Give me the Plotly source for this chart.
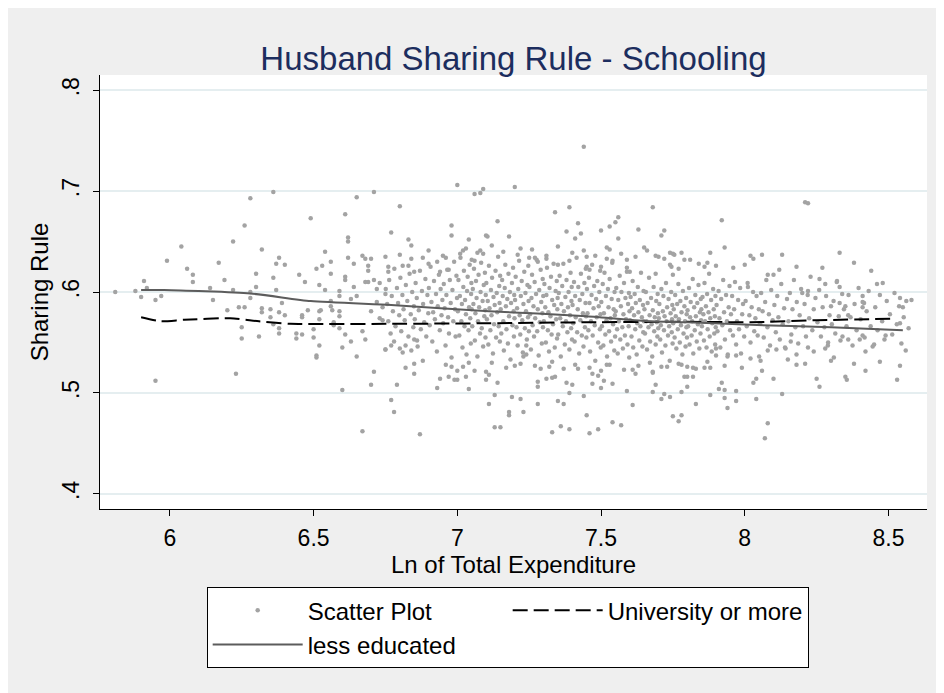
import plotly.graph_objects as go

# smoothed lines
less_educated_x = [5.90, 5.98, 6.28, 6.49, 6.77, 7.11, 7.45, 7.67, 7.80, 8.02, 8.30, 8.55]
less_educated_y = [0.602, 0.602, 0.5985, 0.591, 0.587, 0.581, 0.576, 0.571, 0.570, 0.5675, 0.565, 0.562]

university_x = [5.90, 5.97, 6.05, 6.21, 6.31, 6.42, 6.77, 7.11, 7.45, 7.80, 8.02, 8.25, 8.52]
university_y = [0.575, 0.571, 0.5725, 0.574, 0.571, 0.5685, 0.5685, 0.569, 0.570, 0.5705, 0.570, 0.572, 0.5735]

# scattered households outside the dense cloud
scatter_outer = [
    (5.81, 0.600), (5.88, 0.601), (5.90, 0.595), (5.91, 0.611), (5.92, 0.604), (5.95, 0.592), (5.95, 0.512),
    (5.97, 0.596), (5.99, 0.631), (6.04, 0.645), (6.06, 0.623), (6.08, 0.617), (6.08, 0.610), (6.14, 0.604),
    (6.15, 0.592), (6.17, 0.629), (6.19, 0.612), (6.20, 0.582), (6.22, 0.650), (6.22, 0.602), (6.23, 0.519),
    (6.24, 0.585), (6.25, 0.565), (6.25, 0.554), (6.26, 0.666), (6.26, 0.585), (6.28, 0.693), (6.28, 0.600),
    (6.28, 0.594), (6.30, 0.618), (6.30, 0.605), (6.31, 0.556), (6.32, 0.642), (6.32, 0.584), (6.32, 0.580),
    (6.35, 0.583), (6.35, 0.575), (6.36, 0.699), (6.36, 0.614), (6.36, 0.568), (6.37, 0.628), (6.37, 0.602),
    (6.38, 0.634), (6.38, 0.580), (6.38, 0.559), (6.38, 0.564), (6.39, 0.589), (6.40, 0.627), (6.40, 0.577),
    (6.44, 0.559), (6.44, 0.554), (6.45, 0.617), (6.46, 0.558), (6.46, 0.575), (6.46, 0.577), (6.47, 0.610),
    (6.48, 0.582), (6.49, 0.673), (6.50, 0.563), (6.50, 0.555), (6.51, 0.537), (6.51, 0.535), (6.51, 0.623),
    (6.52, 0.547), (6.52, 0.581), (6.52, 0.573), (6.525, 0.582), (6.52, 0.607), (6.53, 0.626), (6.54, 0.640),
    (6.54, 0.602), (6.56, 0.630), (6.56, 0.618), (6.56, 0.586), (6.565, 0.582), (6.56, 0.591), (6.57, 0.570),
    (6.57, 0.567), (6.59, 0.601), (6.59, 0.596), (6.59, 0.581), (6.59, 0.576), (6.59, 0.564), (6.60, 0.503),
    (6.60, 0.545), (6.61, 0.677), (6.61, 0.558), (6.61, 0.615), (6.61, 0.612), (6.62, 0.654), (6.62, 0.650),
    (6.62, 0.634), (6.63, 0.551), (6.63, 0.593), (6.64, 0.628), (6.64, 0.605), (6.65, 0.694), (6.65, 0.596),
    (6.65, 0.536), (6.67, 0.636), (6.67, 0.561), (6.67, 0.462), (6.68, 0.633), (6.68, 0.553), (6.68, 0.610),
    (6.69, 0.626), (6.69, 0.621), (6.69, 0.610), (6.70, 0.633), (6.70, 0.508), (6.70, 0.581), (6.71, 0.699),
    (6.71, 0.521), (6.71, 0.612), (6.72, 0.603), (6.72, 0.590), (6.73, 0.574), (6.73, 0.609), (6.74, 0.585),
    (6.74, 0.572), (6.75, 0.635), (6.75, 0.543), (6.75, 0.598), (6.76, 0.625), (6.76, 0.620),
    (6.77, 0.659), (6.80, 0.685), (6.83, 0.652), (6.84, 0.646), (6.81, 0.626), (6.83, 0.626), (6.85, 0.620),
    (6.88, 0.634), (6.90, 0.628), (6.93, 0.630), (6.94, 0.620), (6.96, 0.634), (6.97, 0.622), (6.98, 0.666),
    (6.98, 0.656), (7.00, 0.706), (7.01, 0.638), (7.02, 0.641), (7.04, 0.652), (7.05, 0.632), (7.06, 0.631),
    (7.06, 0.697), (7.07, 0.639), (7.08, 0.641), (7.08, 0.698), (7.09, 0.702), (7.10, 0.656), (7.105, 0.655),
    (7.14, 0.670), (7.18, 0.655), (7.20, 0.704), (7.22, 0.643), (7.25, 0.634), (7.27, 0.634), (7.28, 0.630),
    (7.31, 0.633), (7.34, 0.679), (7.35, 0.627), (7.38, 0.660), (7.39, 0.684), (7.39, 0.631), (7.41, 0.653),
    (7.42, 0.668), (7.43, 0.658), (7.44, 0.744), (7.45, 0.635), (7.45, 0.625), (7.46, 0.622), (7.50, 0.661),
    (7.50, 0.625), (7.52, 0.633), (7.53, 0.665), (7.53, 0.642), (7.54, 0.631), (7.55, 0.669), (7.56, 0.674),
    (7.56, 0.653), (7.59, 0.632), (7.59, 0.620), (7.60, 0.620), (7.63, 0.662), (7.65, 0.644), (7.68, 0.684),
    (7.69, 0.636), (7.69, 0.618), (7.70, 0.635), (7.71, 0.656), (7.72, 0.661), (7.74, 0.639), (7.74, 0.627),
    (7.745, 0.625), (7.75, 0.638), (7.755, 0.637), (7.75, 0.617), (7.77, 0.623), (7.78, 0.639), (7.79, 0.632),
    (7.86, 0.625), (7.87, 0.629), (7.88, 0.639), (7.92, 0.671), (7.93, 0.644), (8.01, 0.609), (8.02, 0.636),
    (8.03, 0.633), (8.06, 0.637), (8.08, 0.617), (8.10, 0.617), (8.13, 0.637), (8.21, 0.689), (8.22, 0.688),
    (8.26, 0.613), (8.28, 0.608), (8.32, 0.610), (8.33, 0.605), (8.33, 0.639), (8.38, 0.629), (8.46, 0.608),
    (8.48, 0.609),
    (8.54, 0.594), (8.58, 0.592), (8.55, 0.585), (8.54, 0.569), (8.57, 0.564), (8.56, 0.542), (8.54, 0.527),
    (8.53, 0.513), (8.42, 0.522), (8.38, 0.529), (8.42, 0.541), (8.45, 0.548), (8.35, 0.516), (8.355, 0.513),
    (8.26, 0.506), (8.25, 0.514), (8.30, 0.532), (8.28, 0.544), (8.29, 0.550), (8.22, 0.545), (8.24, 0.541),
    (8.18, 0.528), (8.18, 0.538), (8.16, 0.551), (8.14, 0.545), (8.13, 0.499), (8.10, 0.514), (8.11, 0.543),
    (8.08, 0.542), (8.05, 0.536), (8.055, 0.532), (8.03, 0.510), (8.04, 0.514), (8.04, 0.494), (8.08, 0.470),
    (8.07, 0.455), (8.02, 0.534), (7.97, 0.502), (7.97, 0.492), (7.94, 0.485), (7.93, 0.503), (7.93, 0.495),
    (7.91, 0.504), (7.92, 0.510), (7.88, 0.498), (7.83, 0.489), (7.78, 0.478), (7.75, 0.477), (7.77, 0.472),
    (7.80, 0.506), (7.78, 0.501), (7.74, 0.496), (7.71, 0.494), (7.72, 0.499), (7.68, 0.501), (7.69, 0.508),
    (7.68, 0.521), (7.79, 0.516), (7.80, 0.516), (7.82, 0.516), (7.80, 0.526), (7.82, 0.525), (7.78, 0.528),
    (7.86, 0.525), (7.88, 0.525), (7.90, 0.544), (7.90, 0.537), (7.94, 0.536), (7.97, 0.537), (8.49, 0.557),
    (8.41, 0.557), (8.40, 0.553), (8.36, 0.553), (8.34, 0.556), (8.41, 0.596), (8.415, 0.589), (8.41, 0.585),
    (8.35, 0.586), (8.33, 0.589), (8.30, 0.586), (8.36, 0.577), (8.22, 0.601), (8.20, 0.599),
    (6.77, 0.493), (6.78, 0.481), (6.79, 0.508), (6.87, 0.459), (6.82, 0.525), (6.85, 0.529), (6.85, 0.519),
    (6.93, 0.505), (6.94, 0.514), (6.97, 0.516), (6.98, 0.526), (7.00, 0.513), (7.00, 0.522), (6.99, 0.513),
    (7.03, 0.516), (7.04, 0.530), (7.04, 0.504), (7.10, 0.521), (7.10, 0.513), (7.11, 0.518), (7.11, 0.489),
    (7.13, 0.498), (7.13, 0.466), (7.15, 0.466), (7.18, 0.478), (7.18, 0.481), (7.19, 0.496), (7.22, 0.494),
    (7.23, 0.481), (7.14, 0.510), (7.20, 0.527), (7.23, 0.536), (7.24, 0.538), (7.28, 0.506), (7.28, 0.511),
    (7.28, 0.489), (7.29, 0.524), (7.32, 0.526), (7.31, 0.514), (7.33, 0.515), (7.34, 0.516), (7.33, 0.461),
    (7.36, 0.467), (7.35, 0.492), (7.37, 0.489), (7.39, 0.464), (7.39, 0.500), (7.38, 0.510), (7.40, 0.508),
    (7.42, 0.524), (7.44, 0.497), (7.45, 0.478), (7.46, 0.460), (7.49, 0.464), (7.47, 0.509), (7.47, 0.519),
    (7.49, 0.517), (7.50, 0.522), (7.52, 0.528), (7.51, 0.512), (7.54, 0.509), (7.50, 0.505), (7.54, 0.471),
    (7.57, 0.468), (7.59, 0.502), (7.61, 0.488), (7.61, 0.523), (7.62, 0.519), (7.68, 0.520), (7.71, 0.526),
    (7.24, 0.547), (6.75, 0.543), (6.77, 0.547), (6.78, 0.551), (6.80, 0.544), (6.81, 0.540), (6.82, 0.547),
    (6.84, 0.542), (6.85, 0.553), (6.86, 0.552),
    (6.80, 0.637), (6.84, 0.633), (6.90, 0.641), (6.95, 0.636), (7.03, 0.643), (7.09, 0.638), (7.12, 0.646),
    (7.16, 0.640), (7.21, 0.637), (7.26, 0.642), (7.31, 0.636), (7.35, 0.645), (7.40, 0.639), (7.44, 0.641),
    (7.48, 0.636), (7.52, 0.644), (7.57, 0.638), (7.62, 0.635), (7.66, 0.641), (7.72, 0.633), (7.81, 0.632),
    (7.84, 0.628), (7.90, 0.626), (7.96, 0.624), (8.00, 0.627), (8.12, 0.622), (8.18, 0.625), (8.27, 0.624),
    (8.44, 0.621),
    (6.88, 0.532), (6.96, 0.528), (7.02, 0.526), (7.06, 0.522), (7.12, 0.530), (7.17, 0.525), (7.22, 0.529),
    (7.27, 0.527), (7.33, 0.531), (7.37, 0.524), (7.41, 0.528), (7.46, 0.525), (7.53, 0.528), (7.58, 0.523),
    (7.63, 0.527), (7.67, 0.530), (7.73, 0.526), (7.77, 0.529), (7.83, 0.524), (7.87, 0.531), (7.93, 0.527),
    (7.99, 0.525), (8.06, 0.522), (8.15, 0.533), (8.21, 0.529), (8.31, 0.535), (8.47, 0.531),
]

# the dense cloud in the middle of the range
scatter_core = [
    (6.751, 0.603), (6.756, 0.588), (6.760, 0.571), (6.763, 0.612), (6.768, 0.559), (6.772, 0.596), (6.776, 0.581),
    (6.781, 0.623), (6.785, 0.566), (6.790, 0.604), (6.794, 0.589), (6.798, 0.577),
    (6.802, 0.614), (6.805, 0.561), (6.809, 0.597), (6.813, 0.583), (6.817, 0.572), (6.821, 0.607), (6.826, 0.591),
    (6.830, 0.556), (6.834, 0.618), (6.838, 0.578), (6.843, 0.600), (6.847, 0.565), (6.849, 0.586),
    (6.852, 0.573), (6.855, 0.609), (6.859, 0.594), (6.862, 0.546), (6.866, 0.582), (6.870, 0.621), (6.873, 0.563),
    (6.877, 0.601), (6.881, 0.588), (6.885, 0.570), (6.889, 0.613), (6.892, 0.556), (6.896, 0.597), (6.899, 0.579),
    (6.901, 0.604), (6.904, 0.567), (6.907, 0.625), (6.910, 0.590), (6.913, 0.551), (6.916, 0.580), (6.919, 0.611),
    (6.922, 0.573), (6.926, 0.598), (6.929, 0.541), (6.932, 0.586), (6.936, 0.617), (6.939, 0.562), (6.942, 0.603),
    (6.945, 0.577), (6.948, 0.592),
    (6.951, 0.569), (6.953, 0.608), (6.956, 0.584), (6.959, 0.547), (6.962, 0.597), (6.965, 0.622), (6.968, 0.575),
    (6.971, 0.559), (6.974, 0.612), (6.977, 0.589), (6.980, 0.535), (6.983, 0.602), (6.986, 0.571), (6.989, 0.630),
    (6.992, 0.583), (6.994, 0.556), (6.997, 0.616), (6.999, 0.594),
    (7.002, 0.581), (7.004, 0.612), (7.007, 0.557), (7.009, 0.596), (7.011, 0.634), (7.014, 0.571), (7.016, 0.588),
    (7.018, 0.545), (7.021, 0.605), (7.023, 0.621), (7.025, 0.566), (7.027, 0.592), (7.030, 0.578), (7.032, 0.538),
    (7.034, 0.601), (7.036, 0.615), (7.039, 0.562), (7.041, 0.585), (7.043, 0.627), (7.045, 0.574), (7.047, 0.549),
    (7.048, 0.598), (7.049, 0.609), (7.050, 0.583),
    (7.052, 0.566), (7.054, 0.603), (7.056, 0.588), (7.058, 0.623), (7.061, 0.552), (7.063, 0.579), (7.065, 0.611),
    (7.067, 0.594), (7.070, 0.536), (7.072, 0.571), (7.074, 0.617), (7.076, 0.585), (7.079, 0.559), (7.081, 0.600),
    (7.083, 0.629), (7.085, 0.564), (7.088, 0.591), (7.090, 0.546), (7.092, 0.607), (7.094, 0.576), (7.096, 0.619),
    (7.097, 0.582), (7.098, 0.555), (7.099, 0.597),
    (7.101, 0.609), (7.103, 0.573), (7.106, 0.591), (7.108, 0.548), (7.110, 0.626), (7.112, 0.584), (7.115, 0.562),
    (7.117, 0.602), (7.119, 0.577), (7.121, 0.614), (7.124, 0.539), (7.126, 0.595), (7.128, 0.568), (7.130, 0.587),
    (7.133, 0.621), (7.135, 0.555), (7.137, 0.599), (7.139, 0.580), (7.142, 0.635), (7.144, 0.566), (7.146, 0.606),
    (7.147, 0.589), (7.148, 0.551), (7.149, 0.616),
    (7.151, 0.583), (7.153, 0.559), (7.156, 0.612), (7.158, 0.596), (7.160, 0.571), (7.162, 0.542), (7.165, 0.604),
    (7.167, 0.627), (7.169, 0.586), (7.171, 0.563), (7.174, 0.593), (7.176, 0.549), (7.178, 0.618), (7.180, 0.576),
    (7.183, 0.600), (7.185, 0.533), (7.187, 0.589), (7.190, 0.609), (7.192, 0.567), (7.194, 0.624), (7.196, 0.581),
    (7.197, 0.556), (7.198, 0.597), (7.199, 0.574),
    (7.201, 0.592), (7.203, 0.615), (7.206, 0.565), (7.208, 0.584), (7.210, 0.547), (7.212, 0.603), (7.215, 0.631),
    (7.217, 0.577), (7.219, 0.558), (7.221, 0.596), (7.224, 0.611), (7.226, 0.572), (7.228, 0.540), (7.230, 0.588),
    (7.233, 0.620), (7.235, 0.564), (7.237, 0.599), (7.239, 0.581), (7.242, 0.553), (7.244, 0.607), (7.246, 0.575),
    (7.247, 0.626), (7.248, 0.591), (7.249, 0.561),
    (7.251, 0.605), (7.253, 0.578), (7.256, 0.543), (7.258, 0.594), (7.260, 0.617), (7.262, 0.567), (7.265, 0.586),
    (7.267, 0.556), (7.269, 0.610), (7.271, 0.574), (7.274, 0.598), (7.276, 0.632), (7.278, 0.561), (7.280, 0.583),
    (7.283, 0.537), (7.285, 0.602), (7.287, 0.570), (7.290, 0.622), (7.292, 0.590), (7.294, 0.549), (7.296, 0.579),
    (7.297, 0.613), (7.298, 0.565), (7.299, 0.596),
    (7.301, 0.571), (7.303, 0.608), (7.306, 0.585), (7.308, 0.550), (7.310, 0.597), (7.312, 0.624), (7.315, 0.562),
    (7.317, 0.580), (7.319, 0.541), (7.321, 0.604), (7.324, 0.576), (7.326, 0.615), (7.328, 0.558), (7.330, 0.592),
    (7.333, 0.568), (7.335, 0.628), (7.337, 0.587), (7.339, 0.545), (7.342, 0.601), (7.344, 0.573), (7.346, 0.611),
    (7.347, 0.554), (7.348, 0.583), (7.349, 0.594),
    (7.351, 0.558), (7.353, 0.599), (7.356, 0.616), (7.358, 0.574), (7.360, 0.536), (7.362, 0.588), (7.365, 0.606),
    (7.367, 0.566), (7.369, 0.628), (7.371, 0.581), (7.374, 0.548), (7.376, 0.595), (7.378, 0.571), (7.380, 0.612),
    (7.383, 0.560), (7.385, 0.585), (7.387, 0.600), (7.390, 0.543), (7.392, 0.577), (7.394, 0.619), (7.396, 0.564),
    (7.397, 0.591), (7.398, 0.605), (7.399, 0.553),
    (7.401, 0.587), (7.403, 0.569), (7.406, 0.610), (7.408, 0.551), (7.410, 0.596), (7.412, 0.575), (7.415, 0.634),
    (7.417, 0.560), (7.419, 0.583), (7.421, 0.605), (7.424, 0.539), (7.426, 0.592), (7.428, 0.572), (7.430, 0.618),
    (7.433, 0.557), (7.435, 0.598), (7.437, 0.579), (7.439, 0.546), (7.442, 0.609), (7.444, 0.565), (7.446, 0.589),
    (7.447, 0.623), (7.448, 0.576), (7.449, 0.555),
    (7.451, 0.603), (7.453, 0.579), (7.456, 0.562), (7.458, 0.614), (7.460, 0.589), (7.462, 0.541), (7.465, 0.571),
    (7.467, 0.597), (7.469, 0.627), (7.471, 0.557), (7.474, 0.584), (7.476, 0.606), (7.478, 0.567), (7.480, 0.532),
    (7.483, 0.593), (7.485, 0.575), (7.487, 0.611), (7.490, 0.550), (7.492, 0.586), (7.494, 0.600), (7.496, 0.563),
    (7.497, 0.621), (7.498, 0.578), (7.499, 0.545),
    (7.501, 0.590), (7.503, 0.566), (7.506, 0.608), (7.508, 0.547), (7.510, 0.579), (7.512, 0.619), (7.515, 0.558),
    (7.517, 0.596), (7.519, 0.572), (7.521, 0.536), (7.524, 0.603), (7.526, 0.585), (7.528, 0.561), (7.530, 0.613),
    (7.533, 0.574), (7.535, 0.551), (7.537, 0.593), (7.539, 0.629), (7.542, 0.568), (7.544, 0.583), (7.546, 0.542),
    (7.547, 0.600), (7.548, 0.577), (7.549, 0.556),
    (7.551, 0.581), (7.553, 0.604), (7.556, 0.563), (7.558, 0.539), (7.560, 0.592), (7.562, 0.571), (7.565, 0.616),
    (7.567, 0.553), (7.569, 0.586), (7.571, 0.600), (7.574, 0.565), (7.576, 0.544), (7.578, 0.578), (7.580, 0.609),
    (7.583, 0.557), (7.585, 0.594), (7.587, 0.573), (7.590, 0.624), (7.592, 0.548), (7.594, 0.588), (7.596, 0.566),
    (7.597, 0.599), (7.598, 0.535), (7.599, 0.581),
    (7.601, 0.572), (7.603, 0.595), (7.606, 0.556), (7.608, 0.584), (7.610, 0.611), (7.612, 0.545), (7.615, 0.577),
    (7.617, 0.598), (7.619, 0.563), (7.621, 0.589), (7.624, 0.538), (7.626, 0.569), (7.628, 0.605), (7.630, 0.580),
    (7.633, 0.552), (7.635, 0.592), (7.637, 0.566), (7.639, 0.619), (7.642, 0.575), (7.644, 0.546), (7.646, 0.587),
    (7.647, 0.560), (7.648, 0.601), (7.649, 0.571),
    (7.651, 0.583), (7.653, 0.559), (7.656, 0.600), (7.658, 0.571), (7.660, 0.543), (7.662, 0.589), (7.665, 0.565),
    (7.667, 0.614), (7.669, 0.577), (7.671, 0.551), (7.674, 0.594), (7.676, 0.568), (7.678, 0.536), (7.680, 0.582),
    (7.683, 0.605), (7.685, 0.561), (7.687, 0.575), (7.690, 0.548), (7.692, 0.591), (7.694, 0.570), (7.696, 0.556),
    (7.697, 0.598), (7.698, 0.579), (7.699, 0.564),
    (7.701, 0.574), (7.703, 0.588), (7.706, 0.553), (7.708, 0.567), (7.710, 0.603), (7.712, 0.540), (7.715, 0.581),
    (7.717, 0.596), (7.719, 0.562), (7.721, 0.576), (7.724, 0.547), (7.726, 0.609), (7.728, 0.571), (7.730, 0.585),
    (7.733, 0.557), (7.735, 0.593), (7.737, 0.566), (7.739, 0.532), (7.742, 0.579), (7.744, 0.600), (7.746, 0.560),
    (7.747, 0.573), (7.748, 0.587), (7.749, 0.549),
    (7.751, 0.569), (7.753, 0.583), (7.756, 0.555), (7.758, 0.597), (7.760, 0.576), (7.762, 0.544), (7.765, 0.588),
    (7.767, 0.563), (7.769, 0.608), (7.771, 0.573), (7.774, 0.550), (7.776, 0.591), (7.778, 0.567), (7.780, 0.580),
    (7.783, 0.538), (7.785, 0.601), (7.787, 0.559), (7.790, 0.586), (7.792, 0.571), (7.794, 0.546), (7.796, 0.594),
    (7.797, 0.565), (7.798, 0.578), (7.799, 0.555),
    (7.801, 0.582), (7.803, 0.566), (7.806, 0.604), (7.808, 0.548), (7.810, 0.575), (7.812, 0.590), (7.815, 0.557),
    (7.817, 0.571), (7.819, 0.613), (7.821, 0.539), (7.824, 0.585), (7.826, 0.562), (7.828, 0.597), (7.830, 0.576),
    (7.833, 0.551), (7.835, 0.589), (7.837, 0.568), (7.839, 0.607), (7.842, 0.544), (7.844, 0.580), (7.846, 0.559),
    (7.847, 0.593), (7.848, 0.572), (7.849, 0.583),
    (7.851, 0.566), (7.853, 0.595), (7.856, 0.578), (7.858, 0.552), (7.860, 0.609), (7.862, 0.571), (7.865, 0.586),
    (7.867, 0.545), (7.869, 0.598), (7.871, 0.563), (7.874, 0.580), (7.876, 0.618), (7.878, 0.556), (7.880, 0.574),
    (7.883, 0.592), (7.885, 0.541), (7.887, 0.569), (7.890, 0.603), (7.892, 0.583), (7.894, 0.559), (7.896, 0.576),
    (7.897, 0.548), (7.898, 0.596), (7.899, 0.565),
    (7.902, 0.587), (7.905, 0.561), (7.909, 0.601), (7.912, 0.574), (7.915, 0.545), (7.918, 0.593), (7.922, 0.567),
    (7.925, 0.612), (7.928, 0.580), (7.931, 0.553), (7.935, 0.597), (7.938, 0.571), (7.941, 0.538), (7.944, 0.585),
    (7.947, 0.606), (7.949, 0.562),
    (7.952, 0.578), (7.956, 0.596), (7.959, 0.557), (7.963, 0.583), (7.966, 0.610), (7.970, 0.548), (7.973, 0.571),
    (7.977, 0.592), (7.980, 0.563), (7.984, 0.604), (7.987, 0.539), (7.991, 0.578), (7.994, 0.588), (7.998, 0.556),
    (8.003, 0.591), (8.007, 0.566), (8.011, 0.605), (8.016, 0.577), (8.020, 0.550), (8.024, 0.585), (8.029, 0.600),
    (8.033, 0.561), (8.037, 0.574), (8.041, 0.596), (8.045, 0.557), (8.049, 0.583),
    (8.053, 0.569), (8.057, 0.599), (8.062, 0.581), (8.066, 0.555), (8.071, 0.590), (8.075, 0.612), (8.079, 0.565),
    (8.084, 0.578), (8.088, 0.547), (8.092, 0.602), (8.097, 0.572),
    (8.103, 0.587), (8.108, 0.560), (8.113, 0.596), (8.117, 0.575), (8.122, 0.553), (8.127, 0.608), (8.132, 0.568),
    (8.137, 0.584), (8.142, 0.544), (8.147, 0.593),
    (8.152, 0.571), (8.157, 0.599), (8.162, 0.558), (8.166, 0.583), (8.171, 0.612), (8.176, 0.565), (8.181, 0.590),
    (8.186, 0.549), (8.191, 0.577), (8.196, 0.603),
    (8.203, 0.566), (8.208, 0.588), (8.213, 0.556), (8.219, 0.597), (8.224, 0.574), (8.229, 0.615), (8.235, 0.562),
    (8.240, 0.583), (8.246, 0.594),
    (8.253, 0.570), (8.259, 0.602), (8.265, 0.556), (8.271, 0.585), (8.277, 0.565), (8.283, 0.596), (8.289, 0.547),
    (8.295, 0.577),
    (8.303, 0.568), (8.309, 0.591), (8.315, 0.559), (8.321, 0.611), (8.327, 0.576), (8.333, 0.552), (8.339, 0.598),
    (8.345, 0.583),
    (8.354, 0.566), (8.361, 0.597), (8.368, 0.575), (8.375, 0.547), (8.382, 0.588), (8.389, 0.562), (8.396, 0.604),
    (8.403, 0.573), (8.410, 0.590), (8.417, 0.555), (8.424, 0.581), (8.431, 0.601), (8.438, 0.566), (8.445, 0.546),
    (8.454, 0.585), (8.462, 0.562), (8.470, 0.597), (8.478, 0.571), (8.486, 0.553), (8.494, 0.591),
    (8.505, 0.578), (8.513, 0.558), (8.521, 0.599), (8.529, 0.568), (8.537, 0.586), (8.545, 0.549), (8.553, 0.575),
    (8.562, 0.591),
]

y_ticks = [0.4, 0.5, 0.6, 0.7, 0.8]
y_tick_labels = [".4", ".5", ".6", ".7", ".8"]
x_ticks = [6, 6.5, 7, 7.5, 8, 8.5]
x_tick_labels = ["6", "6.5", "7", "7.5", "8", "8.5"]

points = scatter_outer + scatter_core
scatter_x = [p[0] for p in points]
scatter_y = [p[1] for p in points]

FONT = "Liberation Sans, Arial, sans-serif"

fig = go.Figure()
fig.add_trace(go.Scatter(
    x=scatter_x, y=scatter_y, mode="markers", name="Scatter Plot",
    marker=dict(color="#a3a3a3", size=4.5, line=dict(width=0)),
))
fig.add_trace(go.Scatter(
    x=university_x, y=university_y, mode="lines", name="University or more",
    line=dict(color="black", width=2, dash="15px,6px", shape="spline", smoothing=0.6),
))
fig.add_trace(go.Scatter(
    x=less_educated_x, y=less_educated_y, mode="lines", name="less educated",
    line=dict(color="#5c5c5c", width=2, shape="spline", smoothing=0.6),
))

fig.update_layout(
    width=944, height=693,
    paper_bgcolor="#efefef", plot_bgcolor="white",
    margin=dict(l=92, r=25, t=67, b=192),
    font=dict(family=FONT, size=22, color="black"),
    title=dict(text="Husband Sharing Rule - Schooling", x=0.5, xref="paper",
               y=1 - 50 / 693, yref="container", yanchor="middle",
               font=dict(size=33, color="#1c2d5e")),
    showlegend=True,
    legend=dict(orientation="h", x=0.129, y=-0.18, xanchor="left", yanchor="top",
                bgcolor="white", bordercolor="black", borderwidth=1,
                itemwidth=90, entrywidth=195, font=dict(size=24)),
)
fig.update_xaxes(
    range=[5.757, 8.634], tickvals=x_ticks, ticktext=x_tick_labels,
    showgrid=False, zeroline=False, showline=True, linecolor="black", linewidth=1,
    ticks="outside", ticklen=6, tickcolor="black", ticklabelstandoff=2,
    tickfont=dict(size=23),
    title=dict(text="Ln of Total Expenditure", standoff=0, font=dict(size=24)),
)
fig.update_yaxes(
    range=[0.385, 0.815], tickvals=y_ticks, ticktext=y_tick_labels, tickangle=-90,
    showgrid=True, gridcolor="#e5eef0", gridwidth=1.5, zeroline=False,
    showline=True, linecolor="black", linewidth=1,
    ticks="outside", ticklen=6, tickcolor="black", ticklabelstandoff=5,
    tickfont=dict(size=23),
    title=dict(text="Sharing Rule", standoff=2, font=dict(size=24)),
)

fig.write_html("out.html")
